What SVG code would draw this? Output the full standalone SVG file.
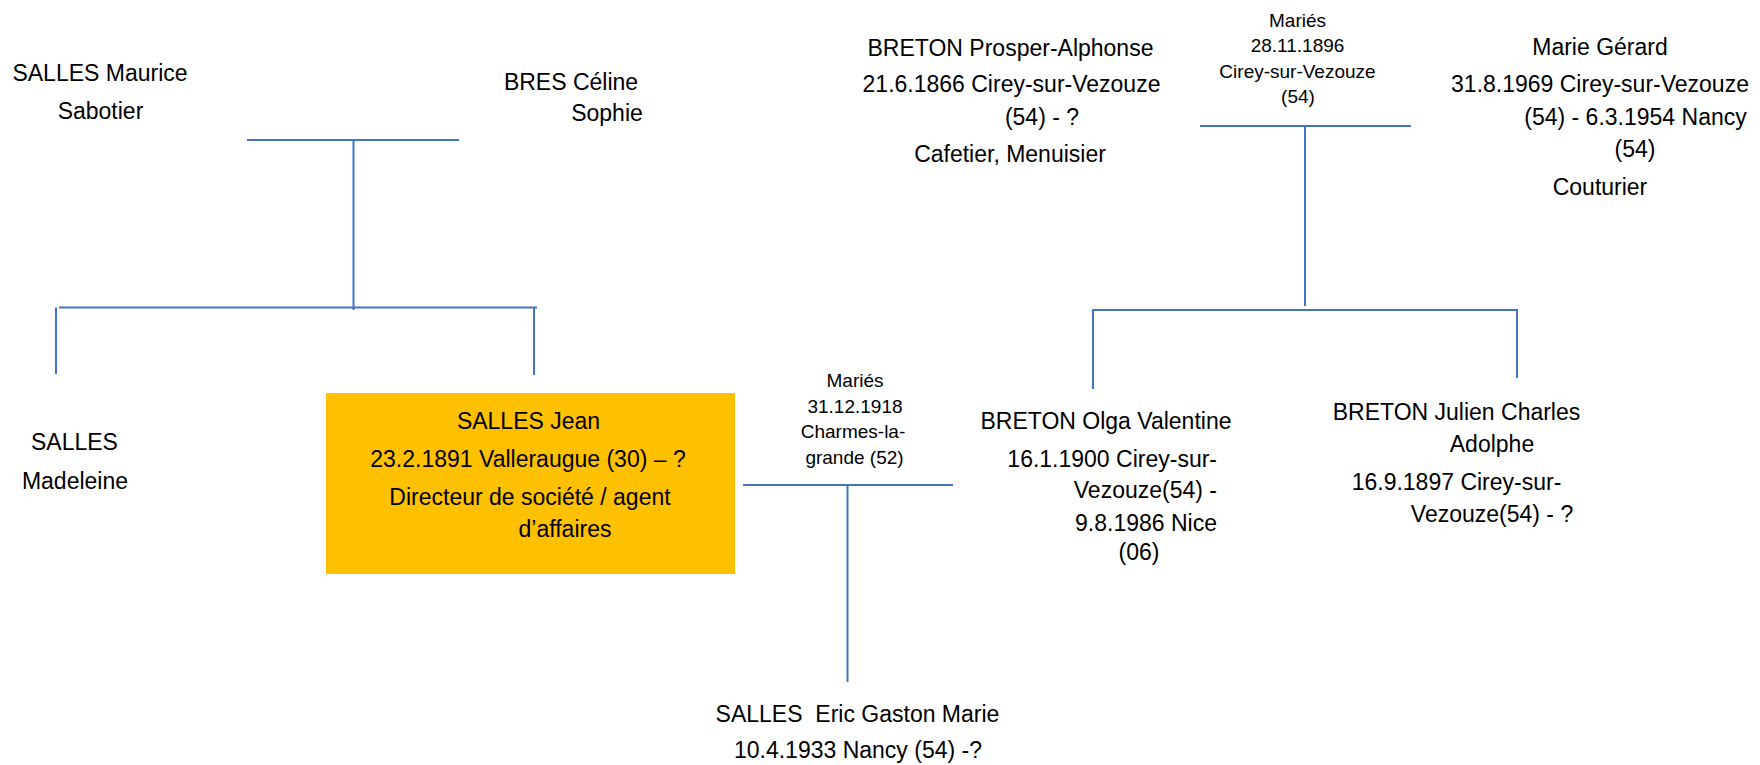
<svg xmlns="http://www.w3.org/2000/svg" width="1760" height="765" viewBox="0 0 1760 765">
<style>
  text { font-family: "Liberation Sans", Arial, sans-serif; fill: #000; }
  .m { font-size: 23px; text-anchor: middle; }
  .me { font-size: 23px; text-anchor: end; }
  .l { font-size: 19px; text-anchor: middle; }
  .pre { white-space: pre; }
  .c line { stroke: #4472C4; stroke-width: 2; }
</style>
<rect width="1760" height="765" fill="#fff"/>

<g id="connectors" class="c">
  <line x1="247" y1="140" x2="459" y2="140"/>
  <line x1="353.5" y1="140" x2="353.5" y2="310"/>
  <line x1="59" y1="307.5" x2="537" y2="307.5"/>
  <line x1="56" y1="307.5" x2="56" y2="374"/>
  <line x1="534" y1="307.5" x2="534" y2="375"/>
  <line x1="1200" y1="126" x2="1411" y2="126"/>
  <line x1="1305" y1="126" x2="1305" y2="306"/>
  <line x1="1092" y1="310" x2="1518" y2="310"/>
  <line x1="1093" y1="310" x2="1093" y2="389"/>
  <line x1="1517" y1="310" x2="1517" y2="378"/>
  <line x1="743" y1="485" x2="953" y2="485"/>
  <line x1="847.5" y1="485" x2="847.5" y2="682"/>
</g>

<g id="salles-maurice">
  <text class="m" x="100" y="80.5">SALLES Maurice</text>
  <text class="m" x="100.5" y="118.5">Sabotier</text>
</g>

<g id="bres-celine">
  <text class="m" x="571" y="90">BRES Céline</text>
  <text class="m" x="607" y="121">Sophie</text>
</g>

<g id="salles-madeleine">
  <text class="m" x="74.5" y="450">SALLES</text>
  <text class="m" x="75" y="489">Madeleine</text>
</g>

<g id="salles-jean">
  <rect x="326" y="393" width="409" height="181" fill="#FFC000"/>
  <text class="m" x="528.5" y="428.5">SALLES Jean</text>
  <text class="m" x="528" y="466.5">23.2.1891 Valleraugue (30) – ?</text>
  <text class="m" x="530" y="505">Directeur de société / agent</text>
  <text class="m" x="565" y="537">d’affaires</text>
</g>

<g id="mariage-1918">
  <text class="l" x="855" y="387">Mariés</text>
  <text class="l" x="855" y="412.5">31.12.1918</text>
  <text class="l" x="853" y="438">Charmes-la-</text>
  <text class="l" x="854.5" y="463.5">grande (52)</text>
</g>

<g id="salles-eric">
  <text class="m pre" x="857.5" y="721.5" xml:space="preserve">SALLES  Eric Gaston Marie</text>
  <text class="m" x="858" y="758">10.4.1933 Nancy (54) -?</text>
</g>

<g id="breton-prosper">
  <text class="m" x="1010.5" y="56">BRETON Prosper-Alphonse</text>
  <text class="m" x="1011.5" y="92">21.6.1866 Cirey-sur-Vezouze</text>
  <text class="m" x="1042" y="125">(54) - ?</text>
  <text class="m" x="1010" y="162">Cafetier, Menuisier</text>
</g>

<g id="mariage-1896">
  <text class="l" x="1297.5" y="26.5">Mariés</text>
  <text class="l" x="1297.5" y="52">28.11.1896</text>
  <text class="l" x="1297.5" y="77.5">Cirey-sur-Vezouze</text>
  <text class="l" x="1298" y="103">(54)</text>
</g>

<g id="marie-gerard">
  <text class="m" x="1600" y="55">Marie Gérard</text>
  <text class="m" x="1600" y="92">31.8.1969 Cirey-sur-Vezouze</text>
  <text class="m" x="1635.5" y="125">(54) - 6.3.1954 Nancy</text>
  <text class="m" x="1635" y="157">(54)</text>
  <text class="m" x="1600" y="195">Couturier</text>
</g>

<g id="breton-olga">
  <text class="m" x="1106" y="429">BRETON Olga Valentine</text>
  <text class="me" x="1217" y="467">16.1.1900 Cirey-sur-</text>
  <text class="me" x="1217" y="498">Vezouze(54) -</text>
  <text class="me" x="1217" y="531">9.8.1986 Nice</text>
  <text class="m" x="1139" y="560">(06)</text>
</g>

<g id="breton-julien">
  <text class="m" x="1456.5" y="420">BRETON Julien Charles</text>
  <text class="m" x="1492" y="452">Adolphe</text>
  <text class="m" x="1456.5" y="490">16.9.1897 Cirey-sur-</text>
  <text class="m" x="1492" y="522">Vezouze(54) - ?</text>
</g>
</svg>
